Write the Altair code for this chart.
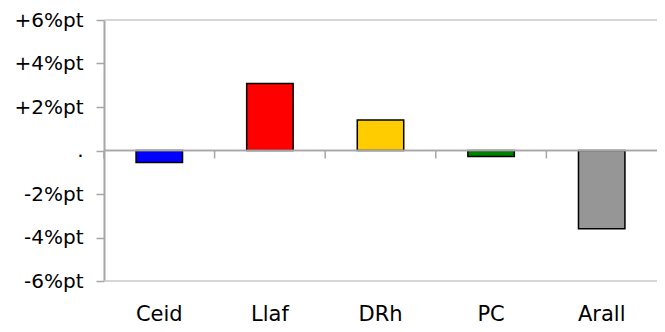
import altair as alt
import pandas as pd

categories = ["Ceid", "Llaf", "DRh", "PC", "Arall"]
values = [-0.55, 3.08, 1.40, -0.28, -3.60]
colors = ["#0000FF", "#FF0000", "#FFCC00", "#008000", "#969696"]
y_ticks = [-6, -4, -2, 0, 2, 4, 6]
frame_levels = [6, -6]

df = pd.DataFrame({"cat": categories, "val": values, "color": colors})
frame_df = pd.DataFrame({"lvl": frame_levels})

W, H = 553, 261
FONT = "DejaVu Sans"

x_scale = alt.Scale(paddingInner=0, paddingOuter=0)
x_axis = alt.Axis(title=None, domain=False, ticks=False, labelAngle=0,
                  labelFontSize=21, labelFont=FONT, labelColor="#000000",
                  labelPadding=22)
y_scale = alt.Scale(domain=[-6, 6], nice=False, zero=False)
y_axis = alt.Axis(title=None, values=y_ticks, grid=False,
                  domainColor="#a6a6a6", domainWidth=2,
                  tickColor="#a6a6a6", tickWidth=1.5, tickSize=8,
                  labelFontSize=20, labelFont=FONT, labelColor="#000000",
                  labelPadding=13,
                  labelExpr="datum.value > 0 ? '+' + datum.value + '%pt' : (datum.value < 0 ? datum.value + '%pt' : '.')")

frame = alt.Chart(frame_df).mark_rule(color="#c8c8c8", strokeWidth=1.5).encode(
    y=alt.Y("lvl:Q", scale=y_scale, axis=y_axis)
)

bars = alt.Chart(df).mark_bar(
    width=alt.RelativeBandSize(0.42), stroke="#000000", strokeWidth=1.5
).encode(
    x=alt.X("cat:N", sort=categories, scale=x_scale, axis=x_axis),
    y=alt.Y("val:Q", scale=y_scale, axis=y_axis),
    y2=alt.datum(0),
    color=alt.Color("color:N", scale=None, legend=None),
)

zero_line = alt.Chart(frame_df).mark_rule(color="#a6a6a6", strokeWidth=1.5).encode(
    y=alt.YDatum(0, scale=y_scale, axis=y_axis)
)

ticks = alt.Chart(df).mark_rule(color="#a6a6a6", strokeWidth=1.5, y2Offset=8).encode(
    x=alt.X("cat:N", sort=categories, bandPosition=0, scale=x_scale, axis=x_axis),
    y=alt.YDatum(0, scale=y_scale, axis=y_axis),
    y2=alt.Y2Datum(0),
)

chart = alt.layer(frame, bars, zero_line, ticks).properties(
    width=W, height=H,
    autosize=alt.AutoSizeParams(type="none"),
    padding={"left": 96, "top": 12, "right": 0, "bottom": 43},
).configure_view(stroke=None)

chart.save("out.html", embed_options={"renderer": "svg", "actions": False})
